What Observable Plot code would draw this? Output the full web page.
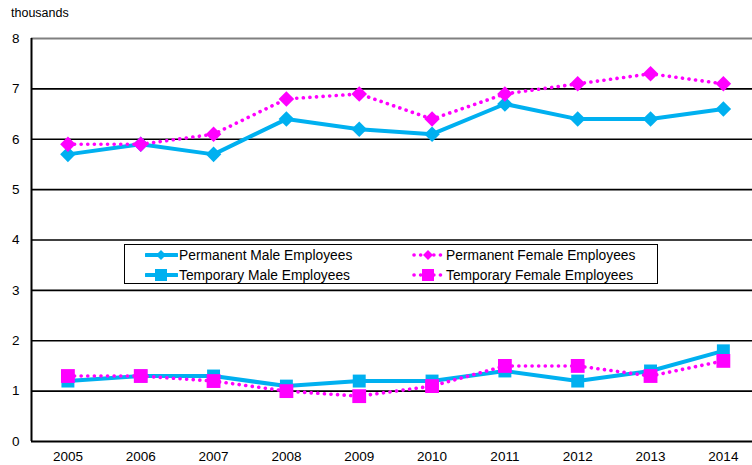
<!DOCTYPE html>
<html><head><meta charset="utf-8">
<script src="https://cdn.jsdelivr.net/npm/d3@7"></script>
<script src="https://cdn.jsdelivr.net/npm/@observablehq/plot@0.6"></script>
<style>
body{margin:0;background:#fff;font-family:"Liberation Sans",Arial,sans-serif;}
#wrap{position:relative;width:752px;height:465px;overflow:hidden;}
#unit{position:absolute;left:11px;top:6px;font-size:12.5px;color:#000;}
#legend{position:absolute;left:124px;top:244px;width:532px;height:38px;border:1.5px solid #000;background:#fff;font-size:13.8px;}
.item{position:absolute;display:flex;align-items:center;height:18px;white-space:nowrap;}
.item svg{margin-right:1px;}
</style></head>
<body><div id="wrap"><div id="chart"></div><div id="unit">thousands</div><div id="legend"></div></div>
<script>
const years = [2005,2006,2007,2008,2009,2010,2011,2012,2013,2014];
const permanentMale   = [5.7,5.9,5.7,6.4,6.2,6.1,6.7,6.4,6.4,6.6];
const permanentFemale = [5.9,5.9,6.1,6.8,6.9,6.4,6.9,7.1,7.3,7.1];
const temporaryMale   = [1.2,1.3,1.3,1.1,1.2,1.2,1.4,1.2,1.4,1.8];
const temporaryFemale = [1.3,1.3,1.2,1.0,0.9,1.1,1.5,1.5,1.3,1.6];
const yTicks = [0,1,2,3,4,5,6,7,8];

const CYAN = "#00B0F0", MAG = "#FF00FF";
const seriesDefs = [
  {name:"Permanent Male Employees", values:permanentMale, color:CYAN, dotted:false, symbol:"diamond2", r:7},
  {name:"Permanent Female Employees", values:permanentFemale, color:MAG, dotted:true, symbol:"diamond2", r:7},
  {name:"Temporary Male Employees", values:temporaryMale, color:CYAN, dotted:false, symbol:"square", r:7.3},
  {name:"Temporary Female Employees", values:temporaryFemale, color:MAG, dotted:true, symbol:"square", r:7.8}
];

const marks = [
  Plot.ruleY(yTicks.filter(d=>d>0 && d<8), {stroke:"#000", strokeWidth:1.6}),
  Plot.ruleY([8], {stroke:"#808080", strokeWidth:2}),
  Plot.ruleY([0], {stroke:"#000", strokeWidth:2}),
  Plot.ruleX([2004.5], {stroke:"#000", strokeWidth:2})
];
for (const s of seriesDefs) {
  const data = years.map((y,i)=>({year:y, value:s.values[i]}));
  marks.push(Plot.line(data, {x:"year", y:"value", stroke:s.color,
    strokeWidth: s.dotted ? 3.6 : 4,
    strokeDasharray: s.dotted ? "0.1 6.5" : null,
    strokeLinecap: s.dotted ? "round" : "butt"}));
  marks.push(Plot.dot(data, {x:"year", y:"value", symbol:()=>s.symbol, r:s.r, fill:s.color, stroke:"none"}));
}

const chart = Plot.plot({
  width:752, height:465,
  marginLeft:31, marginRight:0, marginTop:38, marginBottom:24,
  style:{fontFamily:"Liberation Sans, Arial, sans-serif", fontSize:"13.5px", color:"#000", background:"#fff"},
  x:{domain:[2004.5,2014.4], ticks:years, tickFormat:d=>String(d), tickSize:0, tickPadding:10, label:null},
  y:{domain:[0,8], ticks:yTicks, tickSize:0, tickPadding:12, label:null},
  symbol:{type:"identity"},
  marks
});
document.getElementById("chart").appendChild(chart);

const legend = document.getElementById("legend");
const pos = [[20,0],[287,0],[20,20],[287,20]];
seriesDefs.forEach((s,i)=>{
  const el = document.createElement("div");
  el.className="item";
  el.style.left=pos[i][0]+"px"; el.style.top=(pos[i][1]+1)+"px";
  const sym = s.symbol==="diamond2"
    ? `<polygon points="16,4 21,9 16,14 11,9" fill="${s.color}"/>`
    : `<rect x="10" y="3" width="12" height="12" fill="${s.color}"/>`;
  const line = s.dotted
    ? `<line x1="2" y1="9" x2="31" y2="9" stroke="${s.color}" stroke-width="3.6" stroke-dasharray="0.1 6.5" stroke-linecap="round"/>`
    : `<line x1="1" y1="9" x2="32" y2="9" stroke="${s.color}" stroke-width="4" stroke-linecap="round"/>`;
  el.innerHTML = `<svg width="33" height="18">${line}${sym}</svg><span>${s.name}</span>`;
  legend.appendChild(el);
});
</script></body></html>
